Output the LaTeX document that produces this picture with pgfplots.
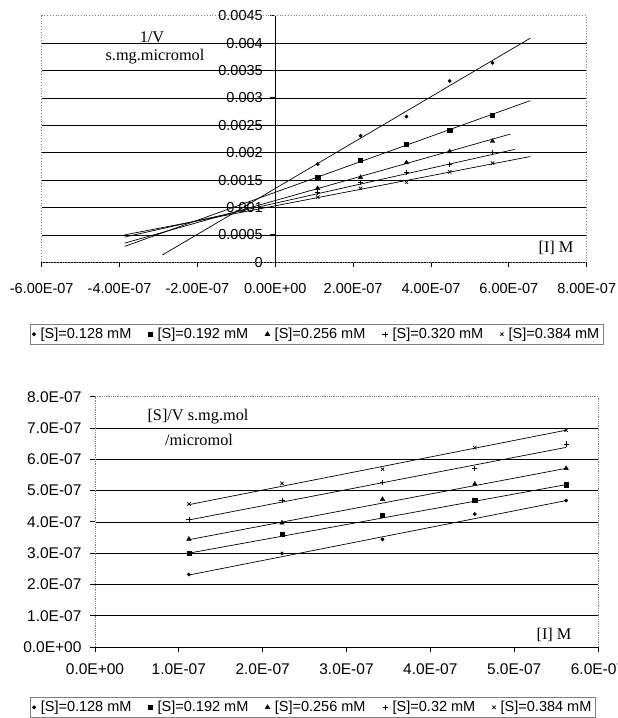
\documentclass[border=0pt]{standalone}
\usepackage{fontspec}
\setmainfont{Liberation Sans}
\newfontfamily\seriffont{Liberation Serif}
\usepackage{pgfplots}
\pgfplotsset{compat=1.18}

\pgfplotsset{
  s1/.style={only marks, mark=*, mark size=1.7pt, black},
  s2/.style={only marks, mark=square*, mark size=2.1pt, black},
  s3/.style={only marks, mark=triangle*, mark size=2.6pt, black},
  s4/.style={only marks, mark=+, mark size=2.6pt, black, mark options={line width=0.7pt}},
  s5/.style={only marks, mark=x, mark size=2.4pt, black, mark options={line width=0.7pt}},
  tl/.style={black, line width=0.7pt, no marks, forget plot},
}

\begin{document}
\begin{tikzpicture}[x=1pt,y=1pt]
% ---------------- Top chart (Dixon plot) ----------------
\begin{axis}[
  at={(41.7pt,455.7pt)}, anchor=south west,
  scale only axis, width=545pt, height=246.6pt,
  xmin=-6e-7, xmax=8e-7, ymin=0, ymax=0.0045,
  scaled ticks=false,
  axis x line=bottom, axis y line=center,
  axis line style={-, black, line width=0.8pt},
  hide obscured x ticks=false, hide obscured y ticks=false,
  xtick={-6e-7,-4e-7,-2e-7,0,2e-7,4e-7,6e-7,8e-7},
  xticklabels={-6.00E-07,-4.00E-07,-2.00E-07,0.00E+00,2.00E-07,4.00E-07,6.00E-07,8.00E-07},
  ytick={0,0.0005,0.001,0.0015,0.002,0.0025,0.003,0.0035,0.004},
  yticklabels={0,0.0005,0.001,0.0015,0.002,0.0025,0.003,0.0035,0.004},
  extra y ticks={0.0045}, extra y tick labels={0.0045},
  extra y tick style={grid=none},
  ymajorgrids, grid style={black, line width=0.6pt},
  tick align=outside, major tick length=5pt,
  tick style={black, line width=0.8pt},
  ticklabel style={font=\fontsize{14.5}{16}\selectfont},
  xticklabel style={yshift=-13pt},
  yticklabel style={xshift=-4pt},
  legend columns=5,
  legend style={at={(-0.0215,-0.25)}, anchor=north west, draw=gray, line width=0.6pt,
    font=\fontsize{14.5}{16}\selectfont, inner sep=2pt,
    /tikz/every odd column/.append style={column sep=3pt},
    /tikz/every even column/.append style={column sep=15pt}},
  clip=false,
]
\draw[gray, dotted, line width=0.8pt] (rel axis cs:0,0) rectangle (rel axis cs:1,1);
% trend lines
\addplot[tl] coordinates {(-2.9e-7,0.000133) (6.55e-7,0.00409)};
\addplot[tl] coordinates {(-3.87e-7,0.00029) (6.55e-7,0.00295)};
\addplot[tl] coordinates {(-3.87e-7,0.00035) (6.04e-7,0.00234)};
\addplot[tl] coordinates {(-3.87e-7,0.00046) (6.15e-7,0.00206)};
\addplot[tl] coordinates {(-3.87e-7,0.00050) (6.55e-7,0.00193)};
% data
\addplot[s1] coordinates {(1.09e-7,0.00179) (2.19e-7,0.00231) (3.37e-7,0.00266) (4.48e-7,0.00331) (5.58e-7,0.00364)};
\addlegendentry{[S]=0.128 mM}
\addplot[s2] coordinates {(1.09e-7,0.00155) (2.19e-7,0.00187) (3.37e-7,0.00216) (4.48e-7,0.00241) (5.58e-7,0.00269)};
\addlegendentry{[S]=0.192 mM}
\addplot[s3] coordinates {(1.09e-7,0.00135) (2.19e-7,0.00155) (3.37e-7,0.00182) (4.48e-7,0.00202) (5.58e-7,0.00221)};
\addlegendentry{[S]=0.256 mM}
\addplot[s4] coordinates {(1.09e-7,0.00127) (2.19e-7,0.00145) (3.37e-7,0.00164) (4.48e-7,0.00179) (5.58e-7,0.00200)};
\addlegendentry{[S]=0.320 mM}
\addplot[s5] coordinates {(1.09e-7,0.00119) (2.19e-7,0.00135) (3.37e-7,0.00146) (4.48e-7,0.00165) (5.58e-7,0.00181)};
\addlegendentry{[S]=0.384 mM}
\end{axis}

% ---------------- Bottom chart ----------------
\begin{axis}[
  at={(95pt,71pt)}, anchor=south west,
  scale only axis, width=503pt, height=250.3pt,
  xmin=0, xmax=6e-7, ymin=0, ymax=8e-7,
  scaled ticks=false,
  axis line style={gray, densely dotted, line width=0.8pt},
  xtick={0,1e-7,2e-7,3e-7,4e-7,5e-7,6e-7},
  xticklabels={0.0E+00,1.0E-07,2.0E-07,3.0E-07,4.0E-07,5.0E-07,6.0E-07},
  ytick={0,1e-7,2e-7,3e-7,4e-7,5e-7,6e-7,7e-7},
  yticklabels={0.0E+00,1.0E-07,2.0E-07,3.0E-07,4.0E-07,5.0E-07,6.0E-07,7.0E-07},
  extra y ticks={8e-7}, extra y tick labels={8.0E-07},
  extra y tick style={grid=none},
  ymajorgrids, grid style={black, line width=0.6pt, solid},
  xtick pos=bottom, ytick pos=left,
  tick align=outside, major tick length=5pt,
  tick style={black, line width=0.8pt, solid},
  ticklabel style={font=\fontsize{15.5}{17}\selectfont},
  xticklabel style={yshift=-8pt},
  yticklabel style={xshift=-5pt},
  legend columns=5,
  legend style={at={(-0.129,-0.2)}, anchor=north west, draw=gray, line width=0.6pt, solid,
    font=\fontsize{14.5}{16}\selectfont, inner sep=2pt,
    /tikz/every odd column/.append style={column sep=3pt},
    /tikz/every even column/.append style={column sep=15pt}},
  clip=false,
]
\draw[black, line width=0.8pt] (rel axis cs:0,0) -- (rel axis cs:1,0);
\addplot[tl] coordinates {(1.12e-7,2.30e-7) (5.62e-7,4.68e-7)};
\addplot[tl] coordinates {(1.12e-7,3.00e-7) (5.62e-7,5.19e-7)};
\addplot[tl] coordinates {(1.12e-7,3.43e-7) (5.62e-7,5.71e-7)};
\addplot[tl] coordinates {(1.12e-7,4.06e-7) (5.62e-7,6.38e-7)};
\addplot[tl] coordinates {(1.12e-7,4.55e-7) (5.62e-7,6.93e-7)};
\addplot[s1] coordinates {(1.12e-7,2.32e-7) (2.23e-7,2.99e-7) (3.43e-7,3.44e-7) (4.53e-7,4.25e-7) (5.62e-7,4.68e-7)};
\addlegendentry{[S]=0.128 mM}
\addplot[s2] coordinates {(1.12e-7,3.01e-7) (2.23e-7,3.61e-7) (3.43e-7,4.20e-7) (4.53e-7,4.68e-7) (5.62e-7,5.19e-7)};
\addlegendentry{[S]=0.192 mM}
\addplot[s3] coordinates {(1.12e-7,3.45e-7) (2.23e-7,3.97e-7) (3.43e-7,4.72e-7) (4.53e-7,5.21e-7) (5.62e-7,5.71e-7)};
\addlegendentry{[S]=0.256 mM}
\addplot[s4] coordinates {(1.12e-7,4.08e-7) (2.23e-7,4.68e-7) (3.43e-7,5.25e-7) (4.53e-7,5.70e-7) (5.62e-7,6.49e-7)};
\addlegendentry{[S]=0.32 mM}
\addplot[s5] coordinates {(1.12e-7,4.57e-7) (2.23e-7,5.23e-7) (3.43e-7,5.68e-7) (4.53e-7,6.37e-7) (5.62e-7,6.93e-7)};
\addlegendentry{[S]=0.384 mM}
\end{axis}

% annotations
\begin{scope}[every node/.style={font=\seriffont\fontsize{16.3}{18}\selectfont, inner sep=0pt}]
\node at (152,681) {1/V};
\node at (155,661) {s.mg.micromol};
\node at (556,470) {[I] M};
\node at (198,301) {[S]/V s.mg.mol};
\node at (199,278) {/micromol};
\node at (554,83) {[I] M};
\end{scope}

\pgfresetboundingbox
\path (0,0) rectangle (618,718);
\end{tikzpicture}
\end{document}
